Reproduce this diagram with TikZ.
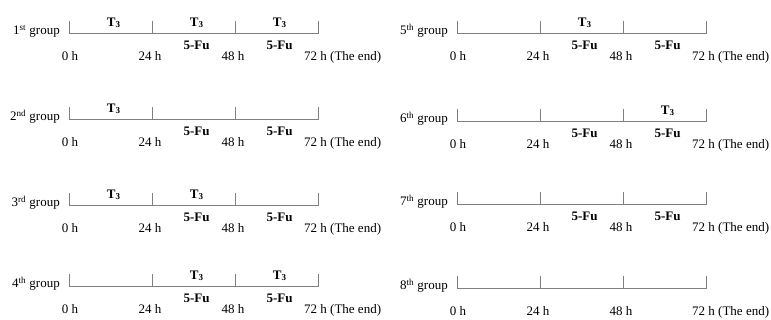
\documentclass[tikz,border=0pt]{standalone}
\usepackage{fontspec}
\setmainfont{Liberation Serif}
\newcommand\timeline[4]{% name, x0, y, ordinal label
  \foreach \i in {0,1,2,3} \coordinate (#1-\i) at ({#2+83*\i},#3);
  \foreach \i in {1,2,3} \coordinate (#1-m\i) at ({#2+83*\i-38.5},#3);
  \draw[axisline] (#1-0) -- (#1-3);
  \foreach \i in {0,1,2,3} \draw[axisline] (#1-\i) -- ++(0,-13);
  \node[lbl, anchor=base east] (#1-name) at ([xshift=-9pt,yshift=-1pt]#1-0) {#4 group};
  \node[lbl, anchor=base] (#1-t0) at ([xshift=1pt,yshift=-27pt]#1-0) {0 h};
  \node[lbl, anchor=base] (#1-t1) at ([xshift=-2pt,yshift=-27pt]#1-1) {24 h};
  \node[lbl, anchor=base] (#1-t2) at ([xshift=-2pt,yshift=-27pt]#1-2) {48 h};
  \node[lbl, anchor=base west] (#1-t3) at ([xshift=-14pt,yshift=-27pt]#1-3) {72 h (The end)};
}
\newcommand\tthree[2]{\node[lbl, anchor=base, font=\fontsize{13}{15}\selectfont\bfseries] (#1-T#2) at ([yshift=7pt]#1-m#2) {T\raisebox{-0.6pt}{\fontsize{9}{9}\selectfont 3}};}
\newcommand\fivefu[2]{\node[lbl, anchor=base, font=\fontsize{13}{15}\selectfont\bfseries] (#1-F#2) at ([yshift=-16pt]#1-m#2) {5-Fu};}
\begin{document}
\begin{tikzpicture}[x=1pt,y=-1pt,
  axisline/.style={draw=black!50, line width=1pt},
  lbl/.style={font=\fontsize{13}{15}\selectfont, inner sep=0pt}]
\useasboundingbox (0,0) rectangle (771,320);
% left column
\timeline{g1}{69}{34}{1\textsuperscript{st}}
\timeline{g2}{69}{120}{2\textsuperscript{nd}}
\timeline{g3}{69}{206}{3\textsuperscript{rd}}
\timeline{g4}{69}{287}{4\textsuperscript{th}}
% right column
\timeline{g5}{457}{34}{5\textsuperscript{th}}
\timeline{g6}{457}{122}{6\textsuperscript{th}}
\timeline{g7}{457}{205}{7\textsuperscript{th}}
\timeline{g8}{457}{289}{8\textsuperscript{th}}
% T3 administrations
\tthree{g1}{1}\tthree{g1}{2}\tthree{g1}{3}
\tthree{g2}{1}
\tthree{g3}{1}\tthree{g3}{2}
\tthree{g4}{2}\tthree{g4}{3}
\tthree{g5}{2}
\tthree{g6}{3}
% 5-Fu administrations
\fivefu{g1}{2}\fivefu{g1}{3}
\fivefu{g2}{2}\fivefu{g2}{3}
\fivefu{g3}{2}\fivefu{g3}{3}
\fivefu{g4}{2}\fivefu{g4}{3}
\fivefu{g5}{2}\fivefu{g5}{3}
\fivefu{g6}{2}\fivefu{g6}{3}
\fivefu{g7}{2}\fivefu{g7}{3}
\end{tikzpicture}
\end{document}
